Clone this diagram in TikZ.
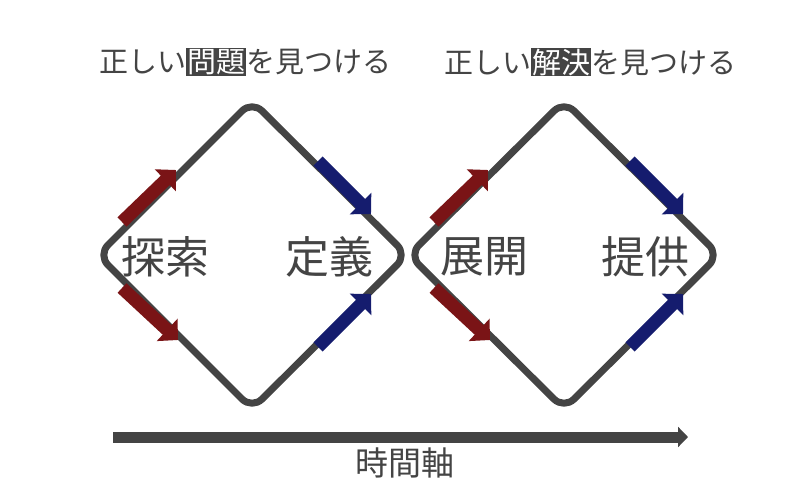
\documentclass[tikz,border=0pt]{standalone}
\usepackage{fontspec}
\setmainfont{Noto Sans CJK JP}
\usetikzlibrary{arrows.meta}
\definecolor{dg}{HTML}{444444}
\definecolor{rd}{HTML}{7A1416}
\definecolor{bl}{HTML}{151C6E}
\newcommand{\hlbox}[1]{{\setlength{\fboxsep}{1pt}\colorbox{dg}{\color{white}#1}}}
\tikzset{
 loop/.style={draw=dg,line width=7pt,rounded corners=14pt,line join=round},
 seg/.style={line width=13pt,-{Triangle[angle=90:21pt]}},
 lab/.style={text=dg,font=\fontsize{44}{48}\selectfont},
 ttl/.style={text=dg,font=\fontsize{29}{34}\selectfont},
}
\begin{document}
\begin{tikzpicture}[x=1pt,y=-1pt]
\useasboundingbox (0,0) rectangle (800,494);
\draw[loop] (252,101) -- (407,255) -- (252,409) -- (98,255) -- cycle;
\draw[loop] (564,101) -- (719,255) -- (564,409) -- (409,255) -- cycle;
\foreach \dx in {0,312}{
 \begin{scope}[xshift=\dx]
 \coordinate (a1) at (122,222); \coordinate (b1) at (176,170);
 \coordinate (a2) at (122,288); \coordinate (b2) at (178,340);
 \coordinate (a3) at (318,161); \coordinate (b3) at (371,214);
 \coordinate (a4) at (318,347); \coordinate (b4) at (371,294);
 \draw[seg,rd] (a1) -- (b1);
 \draw[seg,rd] (a2) -- (b2);
 \draw[seg,bl] (a3) -- (b3);
 \draw[seg,bl] (a4) -- (b4);
 \end{scope}}
\node[lab] (n1) at (165,257) {探索};
\node[lab] (n2) at (329,257) {定義};
\node[lab] (n3) at (484,257) {展開};
\node[lab] (n4) at (645,257) {提供};
\node[ttl] (t1) at (245,62) {正しい\hlbox{問題}を見つける};
\node[ttl] (t2) at (590,62) {正しい\hlbox{解決}を見つける};
\coordinate (s) at (113,437); \coordinate (e) at (688,437);
\draw[dg,line width=11pt,-{Triangle[angle=90:14pt]}] (s) -- (e);
\node[text=dg,font=\fontsize{33}{38}\selectfont] (ax) at (405,463) {時間軸};
\end{tikzpicture}
\end{document}
